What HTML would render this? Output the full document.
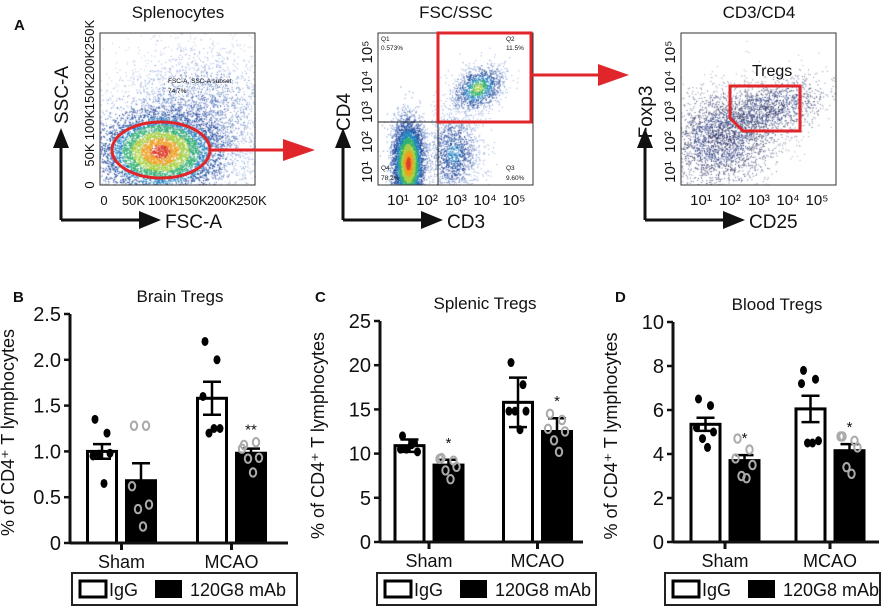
<!DOCTYPE html>
<html><head><meta charset="utf-8"><style>
body{margin:0;background:#fff;}
svg{position:absolute;left:0;top:0;}
canvas{position:absolute;}
text{font-family:"Liberation Sans",sans-serif;fill:#111;}
</style></head><body>
<canvas id="c1" width="156" height="152" style="left:100px;top:33px"></canvas>
<canvas id="c2" width="153" height="152" style="left:378px;top:33px"></canvas>
<canvas id="c3" width="155" height="152" style="left:681px;top:33px"></canvas>
<svg id="s" width="886" height="612"></svg>
<script>
// ---- bar chart data ----
const groups=["Sham","MCAO"];
const brainMeans=[1.0,0.68,1.58,0.98];
const brainErr=[0.08,0.19,0.18,0.05];
const brainPts=[[1.35,1.2,0.95,0.98,0.97,0.65],[1.28,1.28,0.62,0.42,0.37,0.18],[2.2,2.0,1.6,1.25,1.2,1.25],[1.07,1.1,1.03,0.93,0.92,0.77]];
const brainTicks=["0","0.5","1.0","1.5","2.0","2.5"];
const spleenMeans=[10.9,8.7,15.8,12.5];
const spleenErr=[0.7,0.6,2.8,1.5];
const spleenPts=[[12,11.2,10.5,10.2,10.5,11],[9.5,9.2,9.4,8.5,8.1,7.1],[20.3,17.8,14.8,14.8,14.8,12.7],[14.5,13.8,12.8,12.5,11.5,10.2]];
const spleenTicks=["0","5","10","15","20","25"];
const bloodMeans=[5.35,3.7,6.05,4.15];
const bloodErr=[0.3,0.25,0.6,0.3];
const bloodPts=[[6.5,6.2,5.2,5.0,4.7,4.3],[4.7,4.2,3.8,3.5,3.0,2.9],[7.8,7.4,7.2,4.6,4.5,4.5],[4.8,4.6,4.8,4.3,3.4,3.1]];
const bloodTicks=["0","2","4","6","8","10"];

const S=document.getElementById('s');
const NS="http://www.w3.org/2000/svg";
function el(tag,at,name,txt){const e=document.createElementNS(NS,tag);for(const k in at)e.setAttribute(k,at[k]);


if(txt!==undefined)e.textContent=txt;S.appendChild(e);return e;}

function barChart(o){
 const y=v=>o.bottom-(v/o.max)*(o.bottom-o.top);
 el('text',{x:o.titleX,y:o.top-12,'font-size':17,'text-anchor':'middle'},o.id+'-title',o.title);
 el('text',{x:o.letterX,y:302,'font-size':15,'font-weight':'bold'},o.id+'-panel-letter',o.letter);
 el('text',{transform:`translate(${o.axis-56},${(o.top+o.bottom)/2+4}) rotate(-90)`,'font-size':18,'text-anchor':'middle'},o.id+'-y-axis-title','% of CD4\u207A T lymphocytes');
 o.ticks.forEach((t,i)=>{const v=o.max*i/(o.ticks.length-1);
  el('line',{x1:o.axis-6,x2:o.axis,y1:y(v),y2:y(v),stroke:'#111','stroke-width':2.5},o.id+'-y-tick');
  el('text',{x:o.axis-9,y:y(v)+7,'font-size':20,'text-anchor':'end'},o.id+'-y-tick-label',t);});
 for(let i=0;i<4;i++){
  const gc=o.gc[Math.floor(i/2)],left=i%2===0?gc-35.5:gc+3.5;
  const filled=i%2===1;
  el('rect',{x:left+1.5,y:y(o.means[i]),width:29,height:o.bottom-y(o.means[i]),fill:filled?'#000':'#fff',stroke:'#000','stroke-width':3},o.id+'-bar-'+i);
  const cx=left+16,hi=y(o.means[i]+o.err[i]),lo=y(o.means[i]-o.err[i]);
  el('line',{x1:cx,x2:cx,y1:hi,y2:lo,stroke:'#000','stroke-width':2.5},o.id+'-error-bar');
  el('line',{x1:cx-9,x2:cx+9,y1:hi,y2:hi,stroke:'#000','stroke-width':2.5},o.id+'-error-cap');
  el('line',{x1:cx-9,x2:cx+9,y1:lo,y2:lo,stroke:'#000','stroke-width':2.5},o.id+'-error-cap');
  o.pts[i].forEach((p,j)=>{const dx=[-7,5,-9,8,-3,2][j];
   if(filled) el('ellipse',{cx:cx+dx,cy:y(p),rx:3.2,ry:4.2,fill:'none',stroke:'#aaa','stroke-width':2},o.id+'-point');
   else el('ellipse',{cx:cx+dx,cy:y(p),rx:3.5,ry:4.5,fill:'#000'},o.id+'-point');});
  if(filled&&o.stars[i/2|0]) el('text',{x:cx,y:y(o.means[i]+o.err[i])-o.starOff,'font-size':15,'text-anchor':'middle'},o.id+'-significance',o.stars[i/2|0]);
 }
 el('line',{x1:o.axis,x2:o.axis,y1:o.top,y2:o.bottom,stroke:'#111','stroke-width':3},o.id+'-y-axis');
 el('line',{x1:o.axis,x2:o.end,y1:o.bottom,y2:o.bottom,stroke:'#111','stroke-width':3},o.id+'-x-axis');
 groups.forEach((g,k)=>{el('line',{x1:o.gc[k],x2:o.gc[k],y1:o.bottom,y2:o.bottom+7,stroke:'#111','stroke-width':3},o.id+'-x-tick');
  el('text',{x:o.gc[k],y:o.bottom+25,'font-size':18,'text-anchor':'middle'},o.id+'-x-label',g);});
 const L=o.legX;
 el('rect',{x:L,y:573,width:o.legW,height:32,fill:'#fff',stroke:'#222','stroke-width':2},o.id+'-legend');
 el('rect',{x:L+8,y:581,width:26,height:16,fill:'#fff',stroke:'#000','stroke-width':3},o.id+'-legend-igg-swatch');
 el('text',{x:L+37,y:596,'font-size':18},o.id+'-legend-igg','IgG');
 el('rect',{x:L+83,y:580,width:27,height:18,fill:'#000'},o.id+'-legend-mab-swatch');
 el('text',{x:L+118,y:596,'font-size':18},o.id+'-legend-mab','120G8 mAb');
}
barChart({id:'brain',title:'Brain Tregs',letter:'B',letterX:13,titleX:180,axis:70,end:288,top:314,bottom:543,max:2.5,gc:[121.5,231.5],means:brainMeans,err:brainErr,pts:brainPts,ticks:brainTicks,stars:['','**'],starOff:14,legX:72,legW:225});
barChart({id:'spleen',title:'Splenic Tregs',letter:'C',letterX:315,titleX:485,axis:380,end:583,top:321,bottom:542,max:25,gc:[429,537.5],means:spleenMeans,err:spleenErr,pts:spleenPts,ticks:spleenTicks,stars:['*','*'],starOff:12,legX:377,legW:219});
barChart({id:'blood',title:'Blood Tregs',letter:'D',letterX:615,titleX:777,axis:673,end:879,top:322,bottom:542,max:10,gc:[725,830],means:bloodMeans,err:bloodErr,pts:bloodPts,ticks:bloodTicks,stars:['*','*'],starOff:12,legX:665,legW:215});

// ---- flow plots (decorative) ----
el('text',{x:14,y:30,'font-size':15,'font-weight':'bold'},'panel-letter-a','A');
function flowFrame(id,bx,title,ylab,xlab,yt,xt,ax){
 el('text',{x:bx+78,y:18,'font-size':17,'text-anchor':'middle'},id+'-title',title);
 el('rect',{x:bx,y:33,width:155,height:152,fill:'none',stroke:'#333','stroke-width':1},id+'-frame');
 const six=yt.length===6;
 const fs=six?13:15;
 yt.forEach((t,i)=>{const yy=six?185-i*30:172-i*30;
  el('text',{transform:`translate(${bx-(six?6:6)},${yy}) rotate(-90)`,'font-size':fs,'text-anchor':'middle'},id+'-y-tick-label',t);});
 xt.forEach((t,i)=>{const xx=six?bx+4+i*29.5:bx+20+i*29;
  el('text',{x:xx,y:205,'font-size':fs,'text-anchor':'middle'},id+'-x-tick-label',t);});
 el('line',{x1:ax,x2:ax,y1:145,y2:220,stroke:'#111','stroke-width':3},id+'-y-arrow');
 el('polygon',{points:`${ax-8},148 ${ax+8},148 ${ax},128`,fill:'#111'},id+'-y-arrowhead');
 el('line',{x1:ax,x2:ax+80,y1:220,y2:220,stroke:'#111','stroke-width':3},id+'-x-arrow');
 el('polygon',{points:`${ax+78},211 ${ax+78},229 ${ax+100},220`,fill:'#111'},id+'-x-arrowhead');
 el('text',{transform:`translate(${ax+7},${six?95:112}) rotate(-90)`,'font-size':19,'text-anchor':'middle'},id+'-y-label',ylab);
 el('text',{x:ax+104,y:228,'font-size':19},id+'-x-label',xlab);
}
const logT=['10¹','10²','10³','10⁴','10⁵'];
flowFrame('fsc',100,'Splenocytes','SSC-A','FSC-A',['0','50K','100K','150K','200K','250K'],['0','50K','100K','150K','200K','250K'],61);
flowFrame('cd3',378,'FSC/SSC','CD4','CD3',logT,logT,343);
flowFrame('cd25',681,'CD3/CD4','Foxp3','CD25',logT,logT,645);
// gates
el('ellipse',{cx:161,cy:150,rx:49,ry:28,fill:'none',stroke:'#e0262b','stroke-width':3},'fsc-gate');
el('text',{x:168,y:83,'font-size':6.5},'fsc-gate-label','FSC-A, SSC-A subset');
el('text',{x:168,y:93,'font-size':6.5},'fsc-gate-pct','74.7%');
el('line',{x1:210,x2:285,y1:150,y2:150,stroke:'#e0262b','stroke-width':3},'arrow-1');
el('polygon',{points:'283,139 283,161 315,150',fill:'#e0262b'},'arrow-1-head');
el('line',{x1:438,x2:438,y1:33,y2:185,stroke:'#222','stroke-width':1},'quad-v');
el('line',{x1:378,x2:531,y1:122,y2:122,stroke:'#222','stroke-width':1},'quad-h');
el('rect',{x:438,y:33,width:93,height:89,fill:'none',stroke:'#e0262b','stroke-width':3},'cd3-cd4-gate');
[['Q1',381,41],['0.573%',381,50],['Q2',506,41],['11.5%',506,50],['Q4',381,170],['78.2%',381,180],['Q3',506,170],['9.60%',506,180]].forEach(q=>el('text',{x:q[1],y:q[2],'font-size':6.5},'quadrant-label',q[0]));
el('line',{x1:531,x2:600,y1:75,y2:75,stroke:'#e0262b','stroke-width':3},'arrow-2');
el('polygon',{points:'598,64 598,86 629,75',fill:'#e0262b'},'arrow-2-head');
el('polygon',{points:'730,86 800,86 800,131 743,131 730,118',fill:'none',stroke:'#e0262b','stroke-width':3},'treg-gate');
el('text',{x:752,y:76,'font-size':16},'treg-gate-label','Tregs');

// scatter densities
let seed=7;function rnd(){seed=(seed*16807)%2147483647;return seed/2147483647;}
function gauss(){return Math.sqrt(-2*Math.log(rnd()+1e-9))*Math.cos(6.2832*rnd());}
function blob(ctx,n,cx,cy,sx,sy,rot,cols,sz,step){
 for(let i=0;i<n;i++){const a=gauss(),b=gauss();const r=Math.sqrt(a*a+b*b);
  const x=cx+a*sx*Math.cos(rot)-b*sy*Math.sin(rot),y=cy+a*sx*Math.sin(rot)+b*sy*Math.cos(rot);
  const k=Math.min(cols.length-1,Math.floor(r/step));ctx.fillStyle=cols[k];ctx.fillRect(x,y,sz,sz);}
}
const C=['#e0402a','#f0a020','#a8d040','#30b070','#2080c0','#2050a0','#3050a0','#6080c0','#90a8d8'];
let c=document.getElementById('c1').getContext('2d');
blob(c,3000,100,80,45,40,0,['#4060b0','#6080c0','#90a8d8','#b0c0e0'],1,0.55);
blob(c,5000,60,118,32,22,0,C,1.2,0.3);
c=document.getElementById('c2').getContext('2d');
blob(c,4000,30,130,8,22,0,C,1.2,0.3);
blob(c,1500,75,120,14,22,0,C.slice(4),1,0.4);
blob(c,1200,100,55,14,10,-0.6,C.slice(2),1,0.35);
c=document.getElementById('c3').getContext('2d');
const B=['#202860','#304080','#404870','#606890','#8088a8','#a0a8c0'];
blob(c,2500,40,105,30,25,-0.4,B,1,0.5);
blob(c,1200,90,75,30,15,-0.3,B,1,0.5);
</script>
</body></html>
